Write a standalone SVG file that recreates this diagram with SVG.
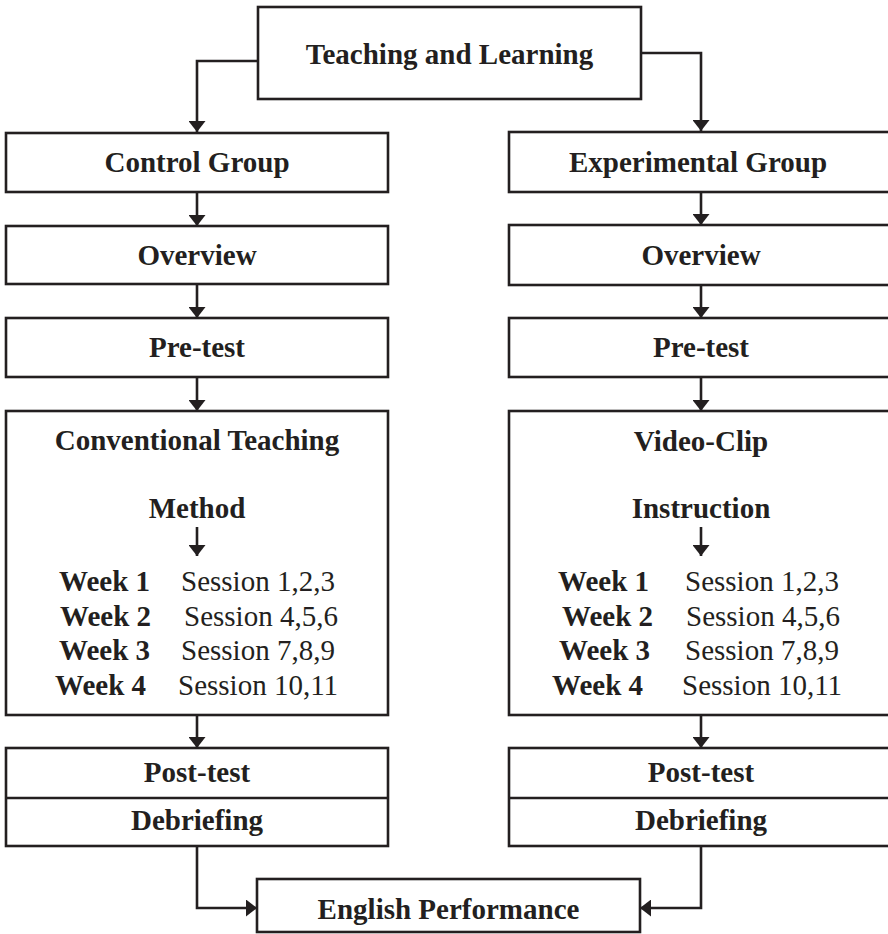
<svg xmlns="http://www.w3.org/2000/svg" width="888" height="934" viewBox="0 0 888 934">
  <style>
    .box { fill: #ffffff; stroke: #231f20; stroke-width: 2.6; }
    .sep { stroke: #231f20; stroke-width: 2.6; }
    .wire { fill: none; stroke: #231f20; stroke-width: 2.6; marker-end: url(#head); }
    .t { font-family: "Liberation Serif", "Times New Roman", serif; font-size: 29px; fill: #231f20; }
    .b { font-weight: bold; }
    .c { text-anchor: middle; }
  </style>
  <defs>
    <marker id="head" viewBox="0 0 11 17" markerWidth="11" markerHeight="17" refX="11" refY="8.5" markerUnits="userSpaceOnUse" orient="auto">
      <path d="M0,0 L11,8.5 L0,17 Z" fill="#231f20"/>
    </marker>
  </defs>

  <g id="teaching-learning">
    <rect class="box" x="258" y="7" width="383" height="92"/>
    <text class="t b c" x="449.5" y="64">Teaching and Learning</text>
  </g>

  <!-- control branch -->
  <g id="control-group">
    <rect class="box" x="6" y="133" width="382" height="59"/>
    <text class="t b c" x="197" y="172">Control Group</text>
  </g>
  <g id="control-overview">
    <rect class="box" x="6" y="226" width="382" height="58"/>
    <text class="t b c" x="197" y="265">Overview</text>
  </g>
  <g id="control-pretest">
    <rect class="box" x="6" y="318" width="382" height="59"/>
    <text class="t b c" x="197" y="357">Pre-test</text>
  </g>
  <g id="control-method">
    <rect class="box" x="6" y="411" width="382" height="304"/>
    <text class="t b c" x="197" y="450">Conventional Teaching</text>
    <text class="t b c" x="197" y="518">Method</text>
    <text class="t b" x="59" y="591">Week 1</text><text class="t" x="181" y="591">Session 1,2,3</text>
    <text class="t b" x="60" y="626">Week 2</text><text class="t" x="184" y="626">Session 4,5,6</text>
    <text class="t b" x="59" y="660">Week 3</text><text class="t" x="181" y="660">Session 7,8,9</text>
    <text class="t b" x="55" y="695">Week 4</text><text class="t" x="178" y="695">Session 10,11</text>
  </g>
  <g id="control-post">
    <rect class="box" x="6" y="748" width="382" height="98"/>
    <line class="sep" x1="6" y1="798" x2="388" y2="798"/>
    <text class="t b c" x="197" y="782">Post-test</text>
    <text class="t b c" x="197" y="830">Debriefing</text>
  </g>

  <!-- experimental branch (right border runs past the canvas edge) -->
  <g id="experimental-group">
    <rect class="box" x="509" y="132" width="382" height="60"/>
    <text class="t b c" x="698" y="172">Experimental Group</text>
  </g>
  <g id="experimental-overview">
    <rect class="box" x="509" y="225" width="382" height="60"/>
    <text class="t b c" x="701" y="265">Overview</text>
  </g>
  <g id="experimental-pretest">
    <rect class="box" x="509" y="318" width="382" height="59"/>
    <text class="t b c" x="701" y="357">Pre-test</text>
  </g>
  <g id="experimental-method">
    <rect class="box" x="509" y="411" width="382" height="304"/>
    <text class="t b c" x="701" y="451">Video-Clip</text>
    <text class="t b c" x="701" y="518">Instruction</text>
    <text class="t b" x="558" y="591">Week 1</text><text class="t" x="685" y="591">Session 1,2,3</text>
    <text class="t b" x="562" y="626">Week 2</text><text class="t" x="686" y="626">Session 4,5,6</text>
    <text class="t b" x="559" y="660">Week 3</text><text class="t" x="685" y="660">Session 7,8,9</text>
    <text class="t b" x="552" y="695">Week 4</text><text class="t" x="682" y="695">Session 10,11</text>
  </g>
  <g id="experimental-post">
    <rect class="box" x="509" y="748" width="382" height="98"/>
    <line class="sep" x1="509" y1="798" x2="891" y2="798"/>
    <text class="t b c" x="701" y="782">Post-test</text>
    <text class="t b c" x="701" y="830">Debriefing</text>
  </g>

  <g id="english-performance">
    <rect class="box" x="257" y="879" width="383" height="53"/>
    <text class="t b c" x="448.5" y="919">English Performance</text>
  </g>

  <!-- connectors, drawn last so the in-box arrows stay visible -->
  <g id="connectors">
    <path class="wire" d="M258,61 H197 V132"/>
    <path class="wire" d="M641,53 H701 V131"/>

    <path class="wire" d="M197,192 V226"/>
    <path class="wire" d="M197,284 V318"/>
    <path class="wire" d="M197,377 V411"/>
    <path class="wire" d="M197,527 V556"/>
    <path class="wire" d="M197,715 V748"/>

    <path class="wire" d="M701,192 V225"/>
    <path class="wire" d="M701,285 V318"/>
    <path class="wire" d="M701,377 V411"/>
    <path class="wire" d="M701,527 V556"/>
    <path class="wire" d="M701,715 V748"/>

    <path class="wire" d="M197,846 V908 H257"/>
    <path class="wire" d="M701,846 V908 H640"/>
  </g>
</svg>
